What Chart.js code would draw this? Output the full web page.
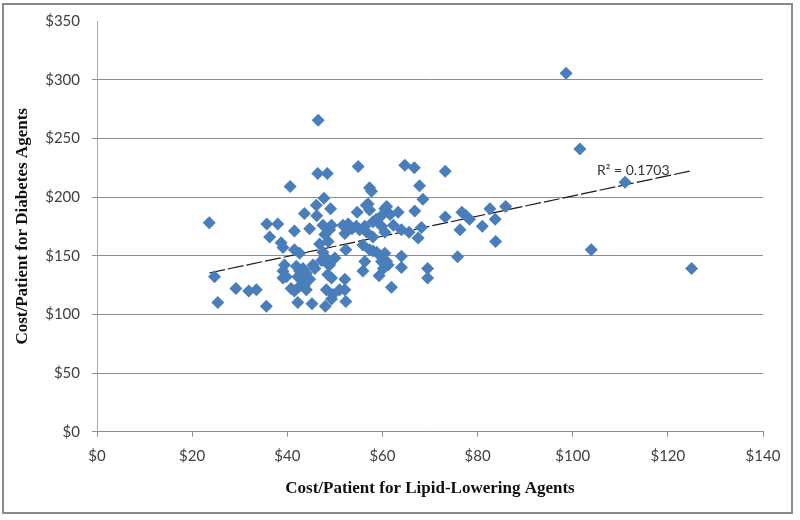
<!DOCTYPE html>
<html>
<head>
<meta charset="utf-8">
<script src="https://cdn.jsdelivr.net/npm/chart.js@4/dist/chart.umd.min.js"></script>
<style>
  html, body { margin: 0; padding: 0; background: #fff; }
  #wrap { width: 800px; height: 520px; position: relative; }
</style>
</head>
<body>
<div id="wrap"><canvas id="c" width="800" height="520"></canvas></div>
<script>
// Cost/Patient for Lipid-Lowering Agents (x) and Diabetes Agents (y)
const lipidCost = [
  23.6, 24.7, 25.4, 29.2, 31.9, 33.5, 35.6, 35.7, 36.3, 38.0, 38.7, 39.1,
  39.4, 39.1, 39.8, 39.1, 40.8, 41.5, 41.9, 42.6, 43.3, 42.2, 44.0, 42.9, 44.7, 43.6, 42.6, 44.0, 42.2, 45.2, 41.5, 42.6, 45.8, 45.4,
  40.6, 41.5, 43.6, 44.7, 46.1, 46.2,
  46.5, 46.4, 48.4, 47.7, 49.1, 47.5, 49.3, 48.9, 47.9, 48.6, 47.5, 47.9, 47.2, 48.2, 48.9, 48.5, 50.0, 49.3, 48.2, 49.6, 49.3, 48.0, 46.8,
  51.7, 52.8, 53.6, 52.1, 54.5, 55.2, 56.3, 56.7, 58.0, 52.3, 52.1, 52.1, 51.0, 52.3, 54.9, 54.7, 56.6, 57.3, 55.9, 56.3, 55.9,
  57.3, 57.7, 57.0, 60.9, 60.5, 61.6, 59.8, 58.7, 58.0, 62.3, 59.8, 60.5, 57.3, 58.0, 58.8, 60.5, 59.8, 60.9, 59.8, 61.2, 60.2, 59.3, 61.9, 63.3,
  64.7, 66.7, 67.8, 68.5, 66.8, 64.0, 65.6, 67.5, 68.2, 64.0, 64.0, 69.5, 69.5,
  73.2, 73.2, 76.7, 77.6, 78.3, 76.3, 75.8, 81.0, 82.6, 83.7, 83.8, 85.9, 98.6, 101.5, 103.9, 111.0, 125.0
];
const diabetesCost = [
  178, 132, 110, 122, 120, 121, 107, 177, 166, 177, 161, 157,
  142, 137, 132, 131, 122, 120, 141, 137, 139, 132, 135, 130, 130, 125, 124, 121, 110, 109, 155, 152, 139, 142,
  209, 171, 186, 173, 193, 184,
  265.5, 220, 220, 199, 190, 176, 176, 172, 168, 162, 153, 149, 146, 144, 142, 134, 148, 131, 121, 117, 113, 107, 160,
  176, 177, 173, 169, 175, 172, 175, 170, 166, 155, 130, 121, 121, 111, 226, 187, 193, 189, 159, 145, 137,
  208, 205, 194, 192, 190, 185, 184, 181, 179, 176, 175, 170, 155, 154, 153, 152, 149, 145, 145, 142, 139, 133, 123, 187,
  227, 225, 209.5, 198, 188, 172, 170, 165, 174, 149.5, 140, 139, 131,
  222, 183, 187, 184, 181, 172, 149, 175, 190, 181, 162, 192, 305.5, 241, 155, 212.6, 139
];
const xTicks = [0, 20, 40, 60, 80, 100, 120, 140];
const yTicks = [0, 50, 100, 150, 200, 250, 300, 350];
const r2Label = 'R\u00B2 = 0.1703';
const xTitle = 'Cost/Patient for Lipid-Lowering Agents';
const yTitle = 'Cost/Patient for Diabetes Agents';

const points = lipidCost.map((x, i) => ({ x: x, y: diabetesCost[i] }));

// least-squares linear trendline from the data
const n = lipidCost.length;
const mx = lipidCost.reduce((a, b) => a + b, 0) / n;
const my = diabetesCost.reduce((a, b) => a + b, 0) / n;
let sxy = 0, sxx = 0;
for (let i = 0; i < n; i++) { sxy += (lipidCost[i] - mx) * (diabetesCost[i] - my); sxx += (lipidCost[i] - mx) ** 2; }
const slope = sxy / sxx, intercept = my - slope * mx;
const xMin = Math.min(...lipidCost), xMax = Math.max(...lipidCost);
const trend = [{ x: xMin, y: intercept + slope * xMin }, { x: xMax, y: intercept + slope * xMax }];

const tickFont = { family: 'Lato', size: 15 };
const titleFont = { family: 'Liberation Serif', size: 17, weight: 'bold' };

const framePlugin = {
  id: 'frame',
  beforeDraw(chart) {
    const ctx = chart.ctx;
    ctx.save();
    ctx.fillStyle = '#fff';
    ctx.fillRect(0, 0, chart.width, chart.height);
    ctx.restore();
  },
  afterDraw(chart) {
    const ctx = chart.ctx;
    ctx.save();
    ctx.strokeStyle = '#8a8a8a';
    ctx.lineWidth = 2;
    ctx.strokeRect(3, 4, 789, 509);
    ctx.restore();
  }
};

const r2Plugin = {
  id: 'r2',
  afterDatasetsDraw(chart) {
    const ctx = chart.ctx;
    const xs = chart.scales.x, ys = chart.scales.y;
    ctx.save();
    ctx.font = '14px Lato';
    ctx.fillStyle = '#333';
    ctx.textAlign = 'left';
    ctx.textBaseline = 'alphabetic';
    ctx.fillText(r2Label, xs.getPixelForValue(105.1), ys.getPixelForValue(218.5));
    ctx.restore();
  }
};

new Chart(document.getElementById('c'), {
  type: 'scatter',
  data: {
    datasets: [
      {
        label: 'Cost',
        data: points,
        pointStyle: 'rectRot',
        pointRadius: 6.5,
        pointHoverRadius: 6.5,
        backgroundColor: '#4a7ebb',
        borderColor: '#4a7ebb',
        borderWidth: 0
      },
      {
        type: 'line',
        label: 'Trend',
        data: trend,
        borderColor: '#1a1a1a',
        borderWidth: 1.2,
        borderDash: [16, 3],
        pointRadius: 0,
        fill: false
      }
    ]
  },
  options: {
    responsive: false,
    animation: false,
    events: [],
    layout: { padding: { top: 17, right: 37, left: 0, bottom: 0 } },
    plugins: { legend: { display: false }, tooltip: { enabled: false } },
    scales: {
      x: {
        type: 'linear',
        min: 0, max: 140,
        afterBuildTicks(scale) { scale.ticks = xTicks.map(v => ({ value: v })); },
        afterFit(scale) { scale.height = 88.3; },
        ticks: { font: tickFont, color: '#404040', padding: 10, maxRotation: 0, callback: v => '$' + v },
        grid: { drawOnChartArea: false, drawTicks: true, tickLength: 5, color: '#8c8c8c' },
        border: { display: true, color: '#8c8c8c' },
        title: { display: true, text: xTitle, font: titleFont, color: '#111', padding: { top: 0, bottom: 21 } }
      },
      y: {
        type: 'linear',
        min: 0, max: 350,
        afterBuildTicks(scale) { scale.ticks = yTicks.map(v => ({ value: v })); },
        afterFit(scale) { scale.width = 97; },
        ticks: { font: tickFont, color: '#404040', padding: 12, callback: v => '$' + v },
        grid: {
          drawTicks: true, tickLength: 5,
          color: c => (c.tick && c.tick.value === 350) ? 'rgba(0,0,0,0)' : '#8c8c8c'
        },
        border: { display: true, color: '#a6a6a6' },
        title: { display: true, text: yTitle, font: titleFont, color: '#111', padding: { top: 12, bottom: 0 } }
      }
    }
  },
  plugins: [framePlugin, r2Plugin]
});
</script>
</body>
</html>
